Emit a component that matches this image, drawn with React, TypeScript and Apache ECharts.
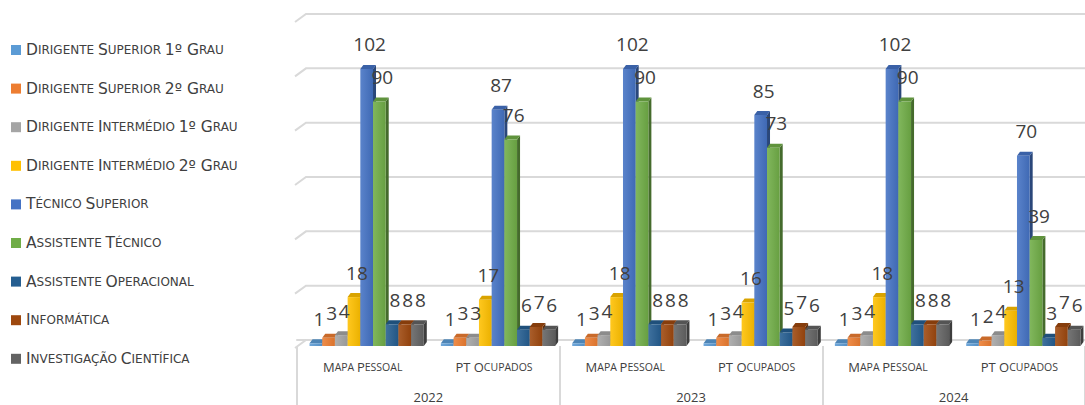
import React, { useEffect, useRef } from "react";
import * as echarts from "echarts";

const CATEGORIES = ["Mapa Pessoal", "PT Ocupados", "Mapa Pessoal", "PT Ocupados", "Mapa Pessoal", "PT Ocupados"];
const YEARS = ["2022", "2023", "2024"];
const SERIES_NAMES = [
  "Dirigente Superior 1º Grau",
  "Dirigente Superior 2º Grau",
  "Dirigente Intermédio 1º Grau",
  "Dirigente Intermédio 2º Grau",
  "Técnico Superior",
  "Assistente Técnico",
  "Assistente Operacional",
  "Informática",
  "Investigação Científica",
];
const DIRIGENTE_SUP_1 = [1, 1, 1, 1, 1, 1];
const DIRIGENTE_SUP_2 = [3, 3, 3, 3, 3, 2];
const DIRIGENTE_INT_1 = [4, 3, 4, 4, 4, 4];
const DIRIGENTE_INT_2 = [18, 17, 18, 16, 18, 13];
const TECNICO_SUPERIOR = [102, 87, 102, 85, 102, 70];
const ASSISTENTE_TECNICO = [90, 76, 90, 73, 90, 39];
const ASSISTENTE_OPERACIONAL = [8, 6, 8, 5, 8, 3];
const INFORMATICA = [8, 7, 8, 7, 8, 7];
const INVESTIGACAO = [8, 6, 8, 6, 8, 6];
const SERIES_VALUES = [
  DIRIGENTE_SUP_1,
  DIRIGENTE_SUP_2,
  DIRIGENTE_INT_1,
  DIRIGENTE_INT_2,
  TECNICO_SUPERIOR,
  ASSISTENTE_TECNICO,
  ASSISTENTE_OPERACIONAL,
  INFORMATICA,
  INVESTIGACAO,
];
const GRID_TICKS = [0, 20, 40, 60, 80, 100, 120];

const COLORS = ["#5B9BD5", "#ED7D31", "#A5A5A5", "#FFC000", "#4472C4", "#70AD47", "#255E91", "#9E480E", "#636363"];
const TEXT = "#404040";
const FONT = "'Open Sans', 'Noto Sans', sans-serif";
const LEGEND_FONT = "'DejaVu Sans', 'Open Sans', sans-serif";

function shade(hex: string, f: number): string {
  const n = parseInt(hex.slice(1), 16);
  let r = (n >> 16) & 255, g = (n >> 8) & 255, b = n & 255;
  if (f >= 1) {
    const t = f - 1;
    r = r + (255 - r) * t; g = g + (255 - g) * t; b = b + (255 - b) * t;
  } else {
    r *= f; g *= f; b *= f;
  }
  return `rgb(${Math.round(r)},${Math.round(g)},${Math.round(b)})`;
}

function smallCaps(s: string): string {
  let out = "";
  let cur = "";
  let curType = "";
  const flush = () => { if (cur) out += `{${curType}|${cur}}`; cur = ""; };
  for (const ch of s) {
    let type: string;
    if (ch === " ") type = curType || "b";
    else if (ch !== ch.toUpperCase()) type = "s";
    else type = "b";
    if (type !== curType) { flush(); curType = type; }
    cur += type === "s" ? ch.toUpperCase() : ch;
  }
  flush();
  return out;
}

const GROUP_RATIO = 0.87;
const NSER = 9;
const FRONT = 6, DX = 3, DY = 4, SHIFT = 4;

function barGeom(api: any, ci: number, v: number, si: number) {
  const band = api.size([1, 0])[0];
  const gw = band * GROUP_RATIO;
  const bw = gw / NSER;
  const base = api.coord([ci, 0]);
  const top = api.coord([ci, v]);
  const x0 = base[0] - gw / 2 + si * bw + SHIFT;
  return { x0, bw, yt: top[1] + FRONT, yb: base[1] + FRONT };
}

export default function App() {
  const ref = useRef<HTMLDivElement>(null);
  useEffect(() => {
    if (!ref.current) return;
    const chart = echarts.init(ref.current, undefined, { renderer: "svg" });

    const barSeries = SERIES_NAMES.map((name, si) => ({
      type: "custom",
      name,
      itemStyle: { color: COLORS[si] },
      encode: { x: 0, y: 1 },
      data: SERIES_VALUES[si].map((v, i) => [i, v]),
      z: 3,
      renderItem: (params: any, api: any) => {
        const ci = api.value(0), v = api.value(1);
        const { x0, bw, yt, yb } = barGeom(api, ci, v, si);
        const c = COLORS[si];
        return {
          type: "group",
          children: [
            {
              type: "polygon",
              shape: { points: [[x0 + bw, yt], [x0 + bw + DX, yt - DY], [x0 + bw + DX, yb - DY], [x0 + bw, yb]] },
              style: { fill: shade(c, 0.62) },
            },
            {
              type: "polygon",
              shape: { points: [[x0, yt], [x0 + DX, yt - DY], [x0 + bw + DX, yt - DY], [x0 + bw, yt]] },
              style: { fill: shade(c, 0.85) },
            },
            {
              type: "rect",
              shape: { x: x0, y: yt, width: bw, height: Math.max(0, yb - yt) },
              style: {
                fill: new echarts.graphic.LinearGradient(0, 0, 1, 0, [
                  { offset: 0, color: shade(c, 1.12) },
                  { offset: 1, color: shade(c, 0.92) },
                ]),
              },
            },
          ],
        };
      },
    }));

    const labelData: number[][] = [];
    SERIES_VALUES.forEach((vals, si) => vals.forEach((v, i) => labelData.push([i, v, si])));

    const labelSeries = {
      type: "custom",
      name: "labels",
      encode: { x: 0, y: 1 },
      data: labelData,
      z: 10,
      silent: true,
      renderItem: (params: any, api: any) => {
        const ci = api.value(0), v = api.value(1), si = api.value(2);
        const { x0, bw, yt } = barGeom(api, ci, v, si);
        return {
          type: "text",
          style: {
            text: String(v),
            x: x0 + bw / 2 + 3,
            y: yt - 15,
            align: "center",
            verticalAlign: "bottom",
            fontSize: 19,
            fontFamily: FONT,
            fill: TEXT,
          },
        };
      },
    };

    const gridSeries = {
      type: "custom",
      name: "grid",
      encode: { x: 0, y: 1 },
      data: GRID_TICKS.map((t) => [0, t]),
      z: 1,
      silent: true,
      renderItem: (params: any, api: any) => {
        const cs = params.coordSys;
        const y = api.coord([0, api.value(1)])[1];
        return {
          type: "polyline",
          shape: { points: [[cs.x - 2, y + 8], [cs.x + 9, y], [cs.x + cs.width, y]] },
          style: { stroke: "#D9D9D9", lineWidth: 2, fill: "none" },
        };
      },
    };

    chart.setOption({
      animation: false,
      backgroundColor: "#ffffff",
      grid: { left: 297, right: 0, top: 14, bottom: 65, containLabel: false },
      legend: {
        data: SERIES_NAMES,
        orient: "vertical",
        left: 6,
        top: 37,
        icon: "rect",
        itemWidth: 10,
        itemHeight: 10,
        itemGap: 22.6,
        formatter: (name: string) => smallCaps(name),
        textStyle: {
          color: TEXT,
          rich: {
            b: { fontSize: 15.5, color: TEXT, fontFamily: LEGEND_FONT, lineHeight: 16 },
            s: { fontSize: 12, color: TEXT, fontFamily: LEGEND_FONT, lineHeight: 16 },
          },
        },
      },
      xAxis: [
        {
          type: "category",
          data: CATEGORIES,
          position: "bottom",
          offset: 6,
          axisLine: { show: true, lineStyle: { color: "#D9D9D9", width: 2 } },
          axisTick: { show: false },
          axisLabel: {
            interval: 0,
            margin: 14,
            formatter: (v: string) => smallCaps(v),
            rich: {
              b: { fontSize: 13, color: TEXT, fontFamily: FONT },
              s: { fontSize: 10.5, color: TEXT, fontFamily: FONT },
            },
          },
          splitLine: { show: false },
        },
        {
          type: "category",
          data: YEARS,
          position: "bottom",
          offset: 6,
          axisLine: { show: false },
          axisTick: { show: true, length: 62, lineStyle: { color: "#D9D9D9", width: 2 } },
          axisLabel: { margin: 44, fontSize: 13, color: TEXT, fontFamily: FONT },
          splitLine: { show: false },
        },
      ],
      yAxis: {
        type: "value",
        min: 0,
        max: 120,
        interval: 20,
        axisLabel: { show: false },
        axisLine: { show: false },
        axisTick: { show: false },
        splitLine: { show: false },
      },
      series: [gridSeries, ...barSeries, labelSeries],
    });
    return () => chart.dispose();
  }, []);
  return <div ref={ref} style={{ position: "fixed", left: 0, top: 0, width: 1085, height: 405 }} />;
}
